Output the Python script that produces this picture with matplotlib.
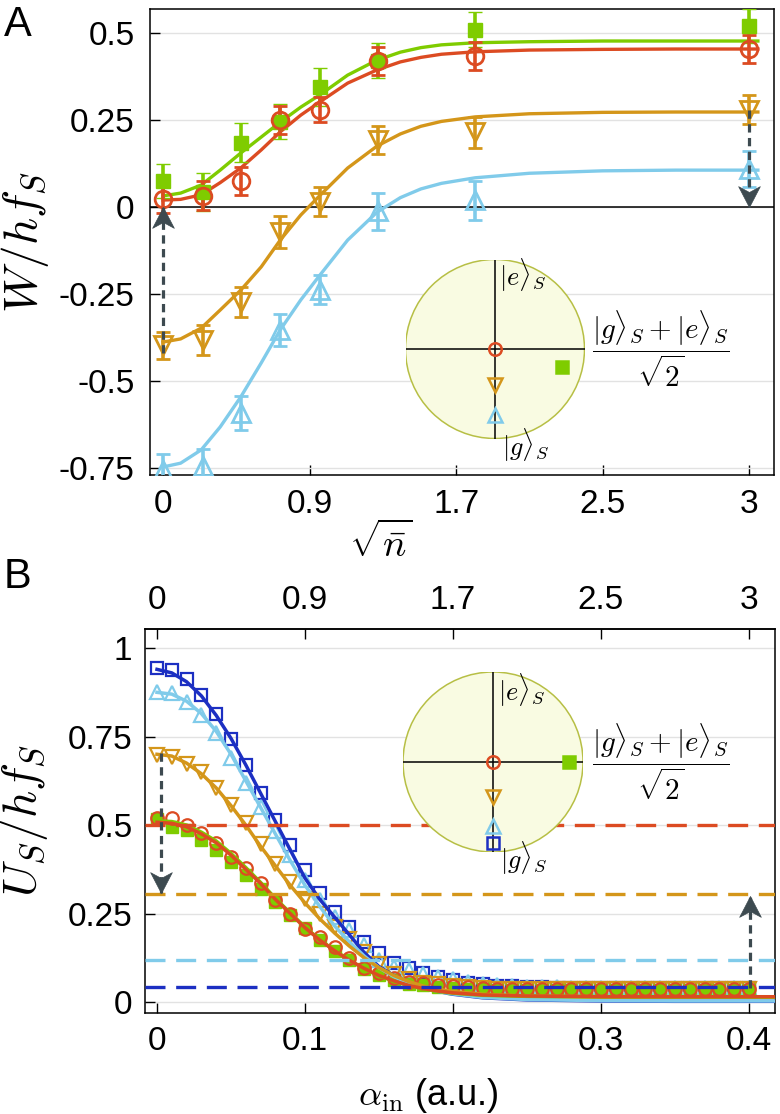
import numpy as np
import matplotlib
matplotlib.use('Agg')
import matplotlib.pyplot as plt
from matplotlib.patches import Circle
from matplotlib.path import Path

plt.rcParams['font.family'] = ['Liberation Sans', 'DejaVu Sans']
plt.rcParams['mathtext.fontset'] = 'cm'

# ---------------- colours ----------------
C_GREEN = '#7fcc00'
C_RED = '#dc4b22'
C_GOLD = '#d4961a'
C_LBLUE = '#80cbea'
C_DBLUE = '#1c2fc2'
C_ARROW = '#3d4a50'
C_GRID = '#e2e2e2'

# ---------------- Panel A data ----------------
alphaA = [0.0, 0.027, 0.053, 0.080, 0.107, 0.147, 0.213, 0.400]
WA_green = [0.075, 0.043, 0.185, 0.245, 0.345, 0.420, 0.510, 0.520]
WA_green_err = [0.050, 0.055, 0.055, 0.050, 0.055, 0.050, 0.050, 0.050]
WA_red = [0.023, 0.033, 0.075, 0.250, 0.280, 0.420, 0.435, 0.454]
WA_red_err = [0.040, 0.042, 0.040, 0.040, 0.037, 0.040, 0.040, 0.040]
WA_gold = [-0.397, -0.382, -0.273, -0.072, 0.015, 0.193, 0.215, 0.280]
WA_gold_err = [0.039, 0.042, 0.043, 0.045, 0.042, 0.040, 0.045, 0.042]
WA_lblue = [-0.755, -0.745, -0.592, -0.353, -0.238, -0.012, 0.020, 0.110]
WA_lblue_err = [0.045, 0.050, 0.050, 0.045, 0.042, 0.053, 0.056, 0.052]

curveA_alpha = [0.0, 0.012, 0.026, 0.039, 0.053, 0.067, 0.080, 0.094, 0.107, 0.126,
                0.146, 0.162, 0.176, 0.19, 0.213, 0.25, 0.30, 0.35, 0.406]
curveA_green = [0.032, 0.040, 0.063, 0.106, 0.155, 0.201, 0.244, 0.287, 0.322, 0.379,
                0.422, 0.445, 0.458, 0.466, 0.472, 0.475, 0.477, 0.477, 0.477]
curveA_red = [0.020, 0.022, 0.035, 0.070, 0.112, 0.164, 0.216, 0.264, 0.302, 0.356,
              0.394, 0.417, 0.430, 0.439, 0.446, 0.451, 0.453, 0.454, 0.454]
curveA_gold = [-0.388, -0.379, -0.348, -0.296, -0.239, -0.172, -0.095, -0.023, 0.033, 0.112,
               0.175, 0.210, 0.232, 0.246, 0.259, 0.268, 0.272, 0.273, 0.273]
curveA_lblue = [-0.747, -0.736, -0.698, -0.632, -0.546, -0.448, -0.353, -0.267, -0.196, -0.095,
                -0.015, 0.027, 0.052, 0.068, 0.084, 0.097, 0.104, 0.106, 0.106]

# ---------------- Panel B data ----------------
alphaB = [0.00, 0.01, 0.02, 0.03, 0.04, 0.05, 0.06, 0.07, 0.08, 0.09, 0.10,
          0.11, 0.12, 0.13, 0.14, 0.15, 0.16, 0.17, 0.18, 0.19, 0.20,
          0.21, 0.22, 0.23, 0.24, 0.25, 0.26, 0.27, 0.28, 0.29, 0.30,
          0.31, 0.32, 0.33, 0.34, 0.35, 0.36, 0.37, 0.38, 0.39, 0.40]
UB_dblue = [0.943, 0.938, 0.912, 0.867, 0.814, 0.743, 0.669, 0.590, 0.515, 0.445, 0.373,
            0.308, 0.254, 0.212, 0.169, 0.138, 0.110, 0.096, 0.082, 0.071, 0.062,
            0.055, 0.050, 0.046, 0.044, 0.042, 0.042, 0.041, 0.041, 0.041, 0.040,
            0.040, 0.040, 0.040, 0.040, 0.040, 0.040, 0.040, 0.040, 0.040, 0.040]
UB_lblue = [0.875, 0.872, 0.848, 0.811, 0.760, 0.690, 0.620, 0.550, 0.482, 0.415, 0.345,
            0.288, 0.240, 0.203, 0.160, 0.119, 0.099, 0.090, 0.080, 0.071, 0.065,
            0.058, 0.052, 0.048, 0.045, 0.043, 0.042, 0.042, 0.041, 0.041, 0.041,
            0.041, 0.041, 0.041, 0.041, 0.041, 0.041, 0.041, 0.041, 0.041, 0.041]
UB_gold = [0.698, 0.692, 0.672, 0.650, 0.605, 0.556, 0.506, 0.447, 0.390, 0.338, 0.290,
           0.250, 0.213, 0.177, 0.140, 0.107, 0.080, 0.064, 0.055, 0.050, 0.045,
           0.042, 0.040, 0.038, 0.037, 0.036, 0.036, 0.036, 0.036, 0.036, 0.036,
           0.036, 0.036, 0.036, 0.036, 0.036, 0.036, 0.036, 0.036, 0.036, 0.036]
UB_red = [0.520, 0.520, 0.500, 0.477, 0.449, 0.410, 0.379, 0.336, 0.288, 0.248, 0.207,
          0.184, 0.155, 0.124, 0.096, 0.082, 0.068, 0.056, 0.054, 0.048, 0.045,
          0.042, 0.040, 0.038, 0.037, 0.036, 0.036, 0.036, 0.036, 0.036, 0.036,
          0.036, 0.036, 0.036, 0.036, 0.036, 0.036, 0.036, 0.036, 0.036, 0.036]
UB_green = [0.517, 0.494, 0.485, 0.458, 0.429, 0.395, 0.359, 0.319, 0.282, 0.246, 0.209,
            0.175, 0.145, 0.118, 0.092, 0.075, 0.062, 0.052, 0.047, 0.043, 0.040,
            0.038, 0.036, 0.035, 0.034, 0.034, 0.034, 0.034, 0.034, 0.034, 0.034,
            0.034, 0.034, 0.034, 0.034, 0.034, 0.034, 0.034, 0.034, 0.034, 0.034]

curveB_alpha = [0.00, 0.01, 0.02, 0.03, 0.04, 0.05, 0.06, 0.07, 0.08, 0.09, 0.10,
                0.11, 0.12, 0.13, 0.14, 0.15, 0.16, 0.17, 0.18, 0.19, 0.20,
                0.22, 0.25, 0.30, 0.35, 0.42]
curveB_dblue = [0.940, 0.930, 0.905, 0.865, 0.810, 0.745, 0.670, 0.590, 0.510, 0.430, 0.350,
                0.290, 0.240, 0.190, 0.140, 0.100, 0.075, 0.055, 0.040, 0.030, 0.022,
                0.012, 0.006, 0.003, 0.002, 0.002]
curveB_lblue = [0.875, 0.870, 0.850, 0.815, 0.765, 0.700, 0.625, 0.550, 0.475, 0.400, 0.330,
                0.270, 0.215, 0.170, 0.130, 0.097, 0.072, 0.053, 0.040, 0.030, 0.023,
                0.013, 0.007, 0.004, 0.003, 0.003]
curveB_gold = [0.700, 0.695, 0.675, 0.645, 0.605, 0.555, 0.500, 0.440, 0.385, 0.330, 0.280,
               0.235, 0.195, 0.158, 0.125, 0.097, 0.075, 0.058, 0.045, 0.036, 0.030,
               0.022, 0.017, 0.015, 0.014, 0.014]
curveB_red = [0.508, 0.505, 0.495, 0.475, 0.450, 0.415, 0.375, 0.335, 0.290, 0.250, 0.210,
              0.175, 0.145, 0.118, 0.095, 0.075, 0.060, 0.047, 0.038, 0.031, 0.026,
              0.020, 0.017, 0.015, 0.015, 0.015]
curveB_green = [0.512, 0.510, 0.500, 0.480, 0.455, 0.420, 0.380, 0.338, 0.293, 0.252, 0.212,
                0.176, 0.146, 0.118, 0.094, 0.074, 0.059, 0.046, 0.037, 0.030, 0.025,
                0.019, 0.016, 0.014, 0.014, 0.014]

# dashed reference levels (panel B)
ref_levels = [0.500, 0.305, 0.119, 0.042]
ref_colors = [C_RED, C_GOLD, C_LBLUE, C_DBLUE]

# arrows: (x, y_start, y_tip)
arrowsA = [(0.0, -0.42, 0.0), (0.4, 0.28, 0.0)]
arrowsB = [(0.003, 0.703, 0.308), (0.401, 0.040, 0.300)]

# ticks
alpha_ticks = [0.0, 0.1, 0.2, 0.3, 0.4]
sqrt_n_labels = ['0', '0.9', '1.7', '2.5', '3']
alpha_labels = ['0', '0.1', '0.2', '0.3', '0.4']
W_ticks = [0.5, 0.25, 0.0, -0.25, -0.5, -0.75]
W_labels = ['0.5', '0.25', '0', '-0.25', '-0.5', '-0.75']
U_ticks = [0.0, 0.25, 0.5, 0.75, 1.0]
U_labels = ['0', '0.25', '0.5', '0.75', '1']

# inset marker positions (Bloch-circle coords)
insetA_pts = {'red': (0.0, 0.0), 'gold': (0.0, -0.40), 'lblue': (0.0, -0.74), 'green': (0.75, -0.20)}
insetB_pts = {'red': (0.0, 0.0), 'gold': (0.0, -0.39), 'lblue': (0.0, -0.71),
              'dblue': (0.0, -0.90), 'green': (0.84, 0.0)}

# ---------------- figure ----------------
W, H = 780, 1114
fig = plt.figure(figsize=(W / 100, H / 100), dpi=100)


def px_axes(left, top, right, bottom):
    return fig.add_axes([left / W, 1 - bottom / H, (right - left) / W, (bottom - top) / H])


TICKFS = 24

def stealth(direction):
    if direction > 0:
        v = [(0, 0), (0.52, -1), (0, -0.72), (-0.52, -1), (0, 0)]
    else:
        v = [(0, 0), (0.52, 1), (0, 0.72), (-0.52, 1), (0, 0)]
    return Path(v, [Path.MOVETO, Path.LINETO, Path.LINETO, Path.LINETO, Path.CLOSEPOLY])


def draw_arrow(ax, x, y0, y1):
    ax.plot([x, x], [y0, y1], color=C_ARROW, lw=2.3, dashes=(2.6, 1.7), zorder=8,
            solid_capstyle='butt', dash_capstyle='butt')
    d = 1 if y1 > y0 else -1
    ax.plot([x], [y1], marker=stealth(d), ms=30, color=C_ARROW, mec=C_ARROW, mew=0.5,
            zorder=9, clip_on=False)


# ===== Panel A =====
axA = px_axes(150, 9, 774, 475)
axA.set_xlim(-0.0089, 0.417)
axA.set_ylim(-0.77, 0.569)
axA.set_axisbelow(True)
axA.yaxis.grid(True, color=C_GRID, lw=1)
axA.axhline(0, color='black', lw=1.1, zorder=1)

for curve, col in [(curveA_lblue, C_LBLUE), (curveA_gold, C_GOLD),
                   (curveA_green, C_GREEN), (curveA_red, C_RED)]:
    axA.plot(curveA_alpha, curve, color=col, lw=2.4, zorder=3)

ekw = dict(ls='none', elinewidth=2.6, capsize=5, capthick=2.6, zorder=4)
axA.errorbar(alphaA, WA_lblue, yerr=WA_lblue_err, marker='^', ms=13, mfc='none',
             mec=C_LBLUE, mew=2, ecolor=C_LBLUE, **ekw)
axA.errorbar(alphaA, WA_gold, yerr=WA_gold_err, marker='v', ms=13, mfc='none',
             mec=C_GOLD, mew=2, ecolor=C_GOLD, **ekw)
axA.errorbar(alphaA, WA_green, yerr=WA_green_err, marker='s', ms=10, mfc=C_GREEN,
             mec=C_GREEN, mew=1, ecolor=C_GREEN, **ekw)
axA.errorbar(alphaA, WA_red, yerr=WA_red_err, marker='o', ms=12, mfc='none',
             mec=C_RED, mew=2, ecolor=C_RED, **ekw)

for x, y0, y1 in arrowsA:
    draw_arrow(axA, x, y0, y1)

axA.set_xticks(alpha_ticks, sqrt_n_labels)
axA.set_yticks(W_ticks, W_labels)
axA.tick_params(axis='both', direction='in', length=7, width=1, labelsize=TICKFS)
axA.tick_params(axis='x', pad=10)
axA.tick_params(axis='y', pad=11)
axA.set_xlabel(r'$\sqrt{\bar{n}}$', fontsize=28)
axA.xaxis.set_label_coords(0.37, -0.10)
axA.set_ylabel(r'$W/hf_S$', fontsize=34)
axA.yaxis.set_label_coords(-0.158, 0.5)
for s in axA.spines.values():
    s.set_linewidth(1.1)

# ===== Panel B =====
axB = px_axes(145, 629, 775, 1013)
axB.set_xlim(-0.0081, 0.4176)
axB.set_ylim(-0.031, 1.054)
axB.set_axisbelow(True)
axB.yaxis.grid(True, color=C_GRID, lw=1)

mk = dict(ls='none', mfc='none', mew=1.6, zorder=4)
axB.plot(alphaB, UB_dblue, marker='s', ms=9, mec=C_DBLUE, **mk)
axB.plot(curveB_alpha, curveB_dblue, color=C_DBLUE, lw=2.5, zorder=5)
axB.plot(alphaB, UB_lblue, marker='^', ms=10, mec=C_LBLUE, **mk)
axB.plot(curveB_alpha, curveB_lblue, color=C_LBLUE, lw=2.5, zorder=5)
axB.plot(alphaB, UB_gold, marker='v', ms=10, mec=C_GOLD, **mk)
axB.plot(curveB_alpha, curveB_gold, color=C_GOLD, lw=2.5, zorder=5)
axB.plot(alphaB, UB_green, ls='none', marker='s', ms=8, mfc=C_GREEN, mec=C_GREEN, zorder=4)
axB.plot(curveB_alpha, curveB_green, color=C_GREEN, lw=2.5, zorder=5)
axB.plot(alphaB, UB_red, marker='o', ms=9, mec=C_RED, **mk)
axB.plot(curveB_alpha, curveB_red, color=C_RED, lw=2.5, zorder=5)

for lvl, col in zip(ref_levels, ref_colors):
    axB.axhline(lvl, color=col, lw=2.4, dashes=(6.0, 3.2), zorder=6)

for x, y0, y1 in arrowsB:
    draw_arrow(axB, x, y0, y1)

axB.set_xticks(alpha_ticks, alpha_labels)
axB.set_yticks(U_ticks, U_labels)
axB.tick_params(axis='both', direction='in', length=7, width=1, labelsize=TICKFS)
axB.tick_params(axis='x', pad=9)
axB.tick_params(axis='y', pad=9)
secB = axB.secondary_xaxis('top')
secB.set_xticks(alpha_ticks, sqrt_n_labels)
secB.tick_params(direction='in', length=7, width=1, labelsize=TICKFS, pad=9)
axB.set_xlabel(r'$\alpha_{\rm in}$ (a.u.)', fontsize=26)
axB.xaxis.set_label_coords(0.45, -0.165)
axB.set_ylabel(r'$U_S/hf_S$', fontsize=34)
axB.yaxis.set_label_coords(-0.15, 0.5)
for s in list(axB.spines.values()) + [secB.spines['top']]:
    s.set_linewidth(1.1)

# ===== insets =====
def bloch_inset(cx, cy, r, pts, e_pos, g_pos, frac_pos):
    ax = px_axes(cx - r, cy - r, cx + r, cy + r)
    ax.set_xlim(-1, 1)
    ax.set_ylim(-1, 1)
    ax.axis('off')
    ax.add_patch(Circle((0, 0), 1, facecolor='#f9fbe2', edgecolor='#b7bf45', lw=1.1, zorder=1))
    ax.plot([-1, 1], [0, 0], color='black', lw=1.1, zorder=2)
    ax.plot([0, 0], [-1, 1], color='black', lw=1.1, zorder=2)
    style = {'red': ('o', C_RED, 'none', 9), 'gold': ('v', C_GOLD, 'none', 10),
             'lblue': ('^', C_LBLUE, 'none', 10), 'dblue': ('s', C_DBLUE, 'none', 9),
             'green': ('s', C_GREEN, C_GREEN, 9)}
    for key, (px, py) in pts.items():
        m, c, fc, s = style[key]
        ax.plot([px], [py], marker=m, ms=s, mec=c, mfc=fc, mew=1.8, zorder=3, clip_on=False)
    ax.text(e_pos[0], e_pos[1], r'$|e\rangle_S$', fontsize=19, ha='left', va='center', zorder=4)
    ax.text(g_pos[0], g_pos[1], r'$|g\rangle_S$', fontsize=19, ha='left', va='center',
            zorder=4, clip_on=False)
    ax.text(frac_pos[0], frac_pos[1], r'$\dfrac{|g\rangle_S+|e\rangle_S}{\sqrt{2}}$',
            fontsize=21, ha='left', va='center', zorder=4, clip_on=False)
    return ax

bloch_inset(495, 349, 89.5, insetA_pts, (0.05, 0.82), (0.08, -1.08), (1.08, 0.0))
bloch_inset(493, 762, 90, insetB_pts, (0.05, 0.80), (0.08, -1.07), (1.10, 0.0))

# panel labels
fig.text(4 / W, 1 - 25 / H, 'A', fontsize=30, ha='left', va='center')
fig.text(4 / W, 1 - 577 / H, 'B', fontsize=30, ha='left', va='center')

fig.savefig('out.png', dpi=100)
